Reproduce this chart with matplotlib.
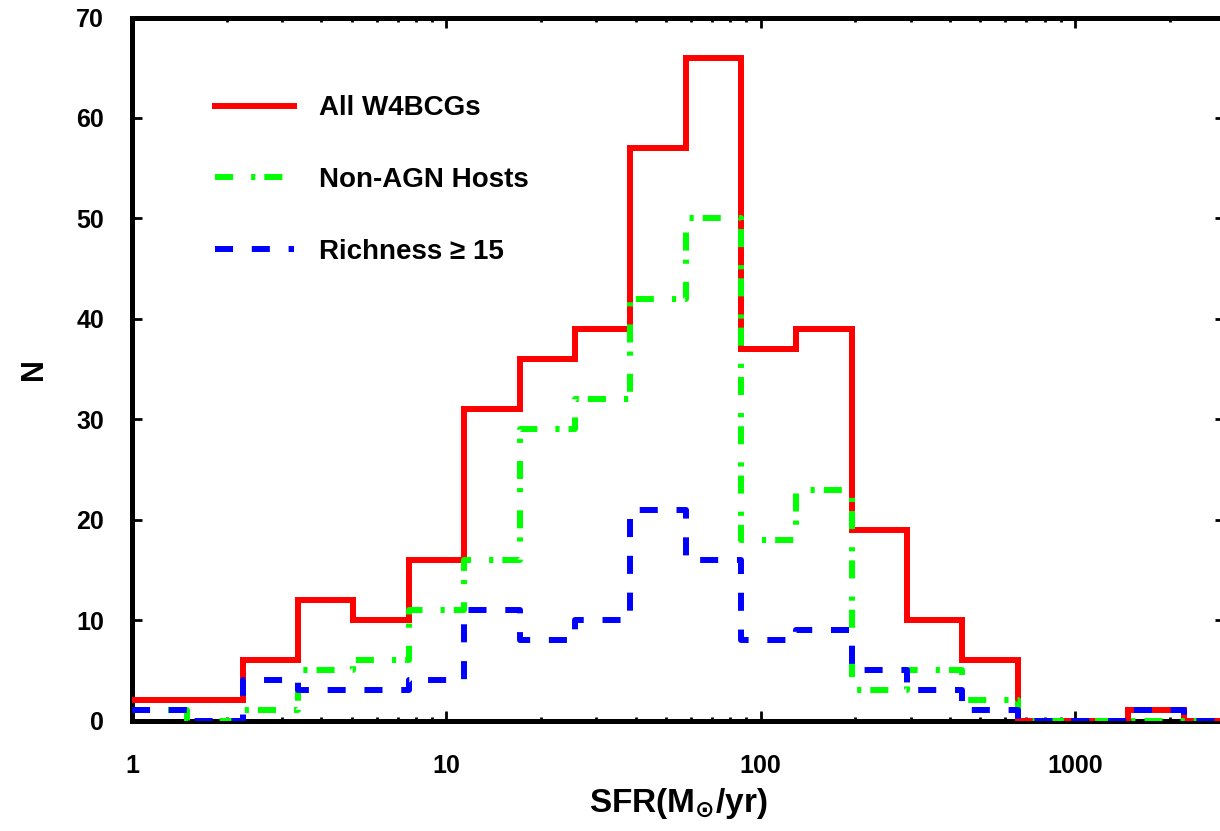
import matplotlib
matplotlib.use('Agg')
import matplotlib.pyplot as plt

plt.rcParams['font.family'] = ['Liberation Sans', 'DejaVu Sans']
plt.rcParams['font.weight'] = 'bold'
plt.rcParams['mathtext.fontset'] = 'dejavusans'
plt.rcParams['lines.scale_dashes'] = False

# bin edges (SFR, log bins of factor 1.5)
edges = [1, 1.5, 2.25, 3.375, 5.06, 7.59, 11.39, 17.09, 25.63, 38.44, 57.67,
         86.5, 129.7, 194.6, 291.9, 437.9, 656.8, 985.3, 1478, 2217, 3325]

# counts per bin
all_w4 = [2, 2, 6, 12, 10, 16, 31, 36, 39, 57, 66, 37, 39, 19, 10, 6, 0, 0, 1, 0]
non_agn = [1, 0, 1, 5, 6, 11, 16, 29, 32, 42, 50, 18, 23, 3, 5, 2, 0, 0, 0, 0]
rich15 = [1, 0, 4, 3, 3, 4, 11, 8, 10, 21, 16, 8, 9, 5, 3, 1, 0, 0, 1, 0]

labels = ['All W4BCGs', 'Non-AGN Hosts', 'Richness \u2265 15']

W, H = 1220, 831
fig = plt.figure(figsize=(W / 100, H / 100), dpi=100)
ax = fig.add_axes([132 / W, 1 - 720.5 / H, (1225 - 132) / W, (720.5 - 17.5) / H])

lw = 4.3
ax.step(edges, all_w4 + [all_w4[-1]], where='post', color='#ff0000', lw=lw,
        label=labels[0], zorder=3, solid_joinstyle='miter')
ax.step(edges, non_agn + [non_agn[-1]], where='post', color='#00ff00', lw=lw,
        dashes=(13, 13, 3, 6.5), label=labels[1], zorder=4)
ax.step(edges, rich15 + [rich15[-1]], where='post', color='#0000ff', lw=lw,
        dashes=(13, 13.5), label=labels[2], zorder=5)

ax.set_xscale('log')
ax.set_xlim(1, 3000)
ax.set_ylim(0, 70)
ax.set_xticks([1, 10, 100, 1000])
ax.set_xticklabels(['1', '10', '100', '1000'])
ax.set_yticks(range(0, 71, 10))

for s in ax.spines.values():
    s.set_linewidth(3.6)
    s.set_zorder(2)

ax.tick_params(which='both', direction='in', top=True, right=True, width=2,
               labelsize=18)
ax.tick_params(axis='x', which='major', length=7, pad=24)
ax.tick_params(axis='x', which='minor', length=3)
ax.tick_params(axis='y', which='major', length=7, pad=20)

ax.set_xlabel(r'SFR(M$_{\odot}$/yr)', fontsize=24, fontweight='bold', labelpad=6)
ax.set_ylabel('N', fontsize=22, fontweight='bold', labelpad=20)

ax.legend(loc='upper left', bbox_to_anchor=(0.066, 0.905), frameon=False,
          fontsize=20, handlelength=2.85, handletextpad=0.9, labelspacing=1.64,
          borderaxespad=0)

fig.savefig('out.png', dpi=100)
